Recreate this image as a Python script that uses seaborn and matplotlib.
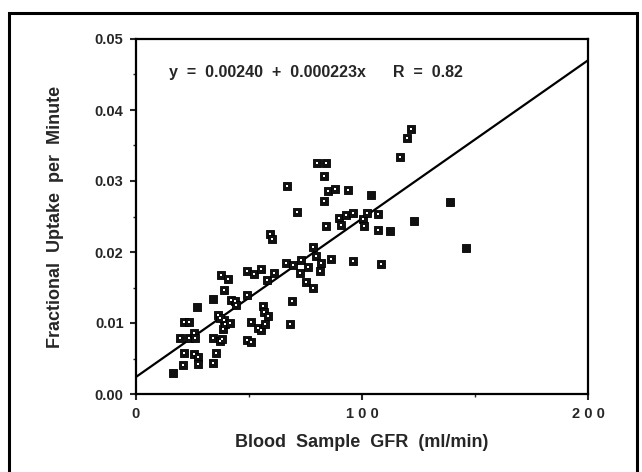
import numpy as np
import pandas as pd
import seaborn as sns
import matplotlib.pyplot as plt
from matplotlib.patches import Rectangle
from matplotlib.ticker import MultipleLocator

# values
gfr = [16.5, 20.7, 21.2, 19.6, 21.2, 23.4, 23.6, 25.5, 26.1, 25.5, 27.4, 27.4,
       27.2, 34.2, 34.2, 34.2, 35.5, 36.1, 37.0, 37.5, 38.2, 38.4, 38.8, 39.1,
       40.6, 39.3, 41.8, 42.2, 44.0, 44.4, 37.3, 49.1, 49.3, 49.1, 50.7, 51.1,
       52.2, 55.1, 54.2, 55.3, 56.3, 56.7, 57.2, 58.2, 58.0, 59.2, 60.0, 61.2,
       66.5, 67.0, 68.1, 69.2, 69.6, 71.2, 72.6, 73.2, 75.2, 76.1, 78.3, 78.3,
       79.5, 79.9, 81.2, 81.9, 83.0, 83.3, 84.2, 84.2, 85.0, 86.1, 87.9, 90.0,
       90.9, 93.1, 94.0, 96.0, 96.2, 100.4, 100.7, 102.2, 104.0, 106.9, 107.1,
       108.2, 112.3, 117.0, 119.9, 121.9, 123.0, 139.0, 146.2]
uptake = [0.0030, 0.0041, 0.0058, 0.0079, 0.0101, 0.0101, 0.0079, 0.0086, 0.0079,
          0.0056, 0.0052, 0.0042, 0.0123, 0.0134, 0.0079, 0.0043, 0.0058, 0.0111,
          0.0074, 0.0167, 0.0077, 0.0091, 0.0104, 0.0147, 0.0162, 0.0098, 0.0100,
          0.0132, 0.0131, 0.0126, 0.0107, 0.0173, 0.0139, 0.0076, 0.0101, 0.0073,
          0.0169, 0.0176, 0.0093, 0.0090, 0.0124, 0.0116, 0.0099, 0.0110, 0.0160,
          0.0226, 0.0219, 0.0170, 0.0185, 0.0293, 0.0099, 0.0131, 0.0181, 0.0256,
          0.0171, 0.0189, 0.0158, 0.0179, 0.0207, 0.0150, 0.0195, 0.0326, 0.0173,
          0.0184, 0.0272, 0.0307, 0.0326, 0.0236, 0.0286, 0.0190, 0.0289, 0.0248,
          0.0238, 0.0252, 0.0287, 0.0255, 0.0188, 0.0247, 0.0236, 0.0255, 0.0280,
          0.0254, 0.0231, 0.0183, 0.0229, 0.0334, 0.0360, 0.0373, 0.0243, 0.0270,
          0.0205]
# solid markers (no white centre)
solid = [0, 12, 13, 80, 84, 88, 89, 90]

intercept = 0.00240
slope = 0.000223
x_range = [0, 200]

df = pd.DataFrame({"gfr": gfr, "uptake": uptake})
df["open"] = [i not in solid for i in range(len(df))]

sns.set_style("white")
plt.rcParams["font.family"] = ["Liberation Sans", "DejaVu Sans"]
plt.rcParams["font.weight"] = "bold"

fig = plt.figure(figsize=(6.42, 4.72), dpi=100)
ax = fig.add_axes([136 / 642, 1 - 394 / 472, 452 / 642, 355 / 472])

line_x = np.array(x_range, dtype=float)
ax.plot(line_x, intercept + slope * line_x, color="black", lw=1.6, zorder=2)

sns.scatterplot(data=df, x="gfr", y="uptake", marker="s", s=32, color="#111111",
                edgecolor="black", linewidth=0.6, ax=ax, zorder=3, legend=False)
sns.scatterplot(data=df[df["open"]], x="gfr", y="uptake", marker="s", s=3,
                color="white", linewidth=0, ax=ax, zorder=4, legend=False)

ax.set_xlim(0, 200)
ax.set_ylim(0, 0.05)
ax.set_xticks([0, 100, 200])
ax.set_xticklabels(["0", "1 0 0", "2 0 0"])
ax.set_yticks([0.0, 0.01, 0.02, 0.03, 0.04, 0.05])
ax.set_yticklabels(["0.00", "0.01", "0.02", "0.03", "0.04", "0.05"])
ax.xaxis.set_minor_locator(MultipleLocator(50))
ax.yaxis.set_minor_locator(MultipleLocator(0.005))
ax.tick_params(axis="both", which="major", direction="out", length=4, width=1.5,
               labelsize=10.5, pad=5, left=True, bottom=True)
ax.tick_params(axis="both", which="minor", direction="out", length=2, width=1,
               left=True, bottom=True)
for lab in ax.get_xticklabels() + ax.get_yticklabels():
    lab.set_fontweight("bold")
for sp in ax.spines.values():
    sp.set_visible(True)
    sp.set_color("black")
    sp.set_linewidth(1.6)

ax.set_xlabel("Blood  Sample  GFR  (ml/min)", fontsize=13, fontweight="bold",
              labelpad=10)
ax.set_ylabel("Fractional  Uptake  per  Minute", fontsize=13, fontweight="bold",
              labelpad=22)
ax.text(0.073, 0.905, "y  =  0.00240  +  0.000223x      R  =  0.82",
        transform=ax.transAxes, fontsize=11.5, fontweight="bold", va="center")

fig.patches.append(Rectangle((9 / 642, -0.02), 628 / 642, 1 - 13 / 472 + 0.02,
                             transform=fig.transFigure, fill=False,
                             edgecolor="black", linewidth=2.2))

fig.savefig("out.png", dpi=100)
